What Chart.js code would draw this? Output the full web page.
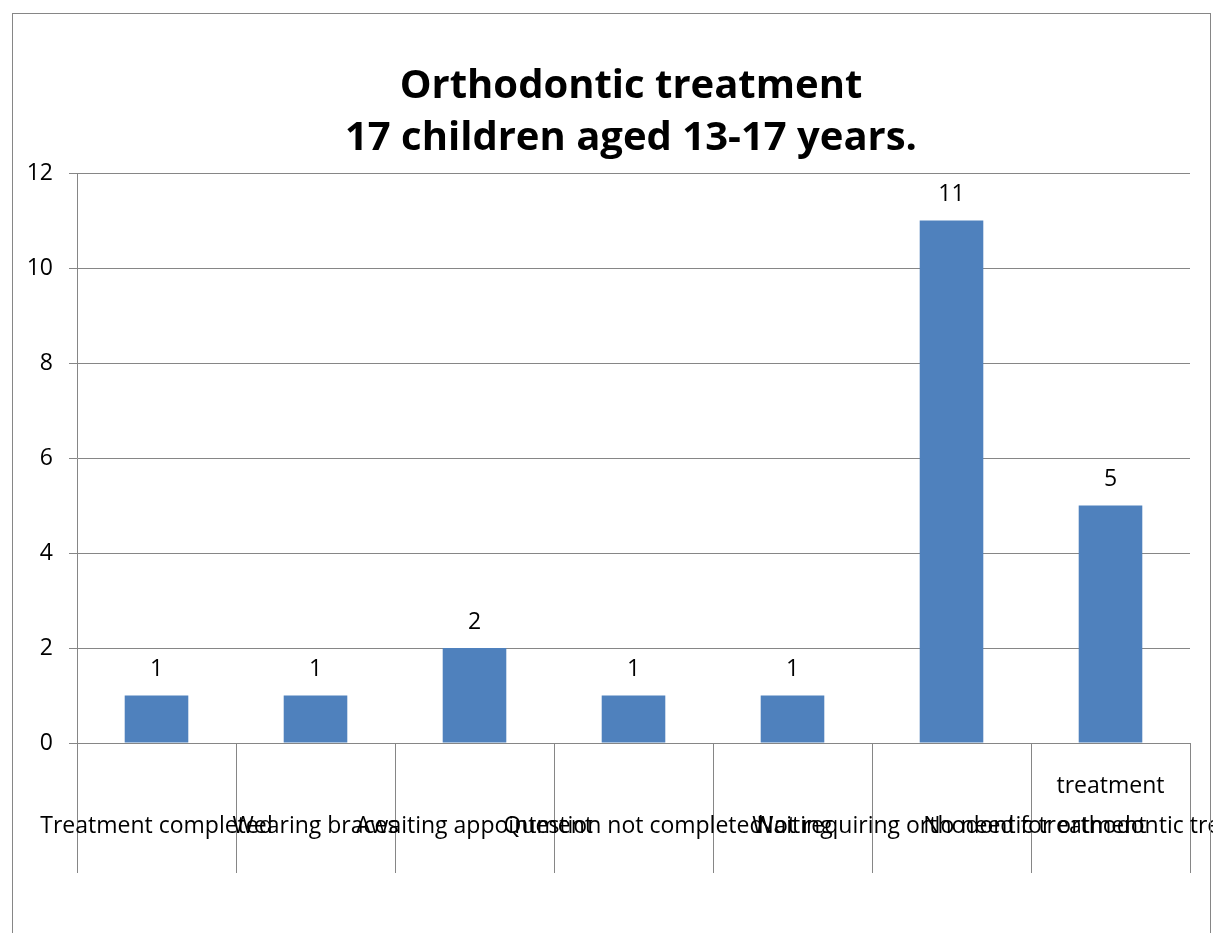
<!DOCTYPE html>
<html>
<head>
<meta charset="utf-8">
<script src="https://cdn.jsdelivr.net/npm/chart.js@4"></script>
<style>
  html, body { margin: 0; padding: 0; background: #fff; }
  #wrap { position: relative; width: 1213px; height: 933px; overflow: hidden; }
  #frame { position: absolute; left: 12px; top: 13px; width: 1197px; height: 940px;
           border: 1px solid #868686; pointer-events: none; }
  #title { position: absolute; left: 0; top: 57px; width: 1262px; text-align: center;
           font: bold 40px 'Open Sans', 'DejaVu Sans', sans-serif; line-height: 52px; color: #000; }
</style>
</head>
<body>
<div id="wrap">
  <canvas id="orthoChart" width="1213" height="933"></canvas>
  <div id="frame"></div>
  <div id="title"></div>
</div>
<script>
// categories (first line left empty so the text sits on the lower row like the original)
const categories = [
    ["", "Treatment completed"],
    ["", "Wearing braces"],
    ["", "Awaiting appointment"],
    ["", "Question not completed"],
    ["", "Waiting"],
    ["", "Not requiring orthodontic treatment"],
    ["treatment", "No need for orthodontic treatment"]
];
const counts = [1, 1, 2, 1, 1, 11, 5];
const titleLines = ["Orthodontic treatment", "17 children aged 13-17 years."];

const yMax = 12;
const yStep = 2;

const fontFamily = "'Open Sans', 'DejaVu Sans', sans-serif";

document.getElementById("title").innerHTML = titleLines.join("<br>");

/* value labels above each bar */
const barValues = {
    id: "barValues",
    afterDatasetsDraw(chart) {
        const ctx = chart.ctx;
        const meta = chart.getDatasetMeta(0);
        ctx.save();
        ctx.font = "23px " + fontFamily;
        ctx.fillStyle = "#000";
        ctx.textAlign = "center";
        ctx.textBaseline = "middle";
        meta.data.forEach(function (bar, i) {
            ctx.fillText(String(counts[i]), bar.x, bar.y - 26);
        });
        ctx.restore();
    }
};

new Chart(document.getElementById("orthoChart"), {
    type: "bar",
    data: {
        labels: categories,
        datasets: [{
            data: counts,
            backgroundColor: "#4F81BD",
            borderWidth: 0,
            barPercentage: 0.4,
            categoryPercentage: 1
        }]
    },
    options: {
        responsive: false,
        animation: false,
        layout: {
            padding: { left: 0, right: 23, top: 173, bottom: 0 }
        },
        plugins: {
            legend: { display: false },
            tooltip: { enabled: false },
            title: { display: false }
        },
        scales: {
            y: {
                min: 0,
                max: yMax,
                afterFit: function (scale) { scale.width = 77; },
                ticks: {
                    stepSize: yStep,
                    color: "#000",
                    padding: 16,
                    font: { family: fontFamily, size: 23 }
                },
                grid: {
                    color: "#868686",
                    tickLength: 8
                },
                border: { color: "#868686" }
            },
            x: {
                afterFit: function (scale) { scale.height = 190; },
                ticks: {
                    autoSkip: false,
                    maxRotation: 0,
                    minRotation: 0,
                    color: "#000",
                    padding: -107,
                    font: { family: fontFamily, size: 23, lineHeight: 1.74 }
                },
                grid: {
                    offset: true,
                    drawOnChartArea: false,
                    color: "#868686",
                    tickLength: 130
                },
                border: { color: "#868686" }
            }
        }
    },
    plugins: [barValues]
});
</script>
</body>
</html>
